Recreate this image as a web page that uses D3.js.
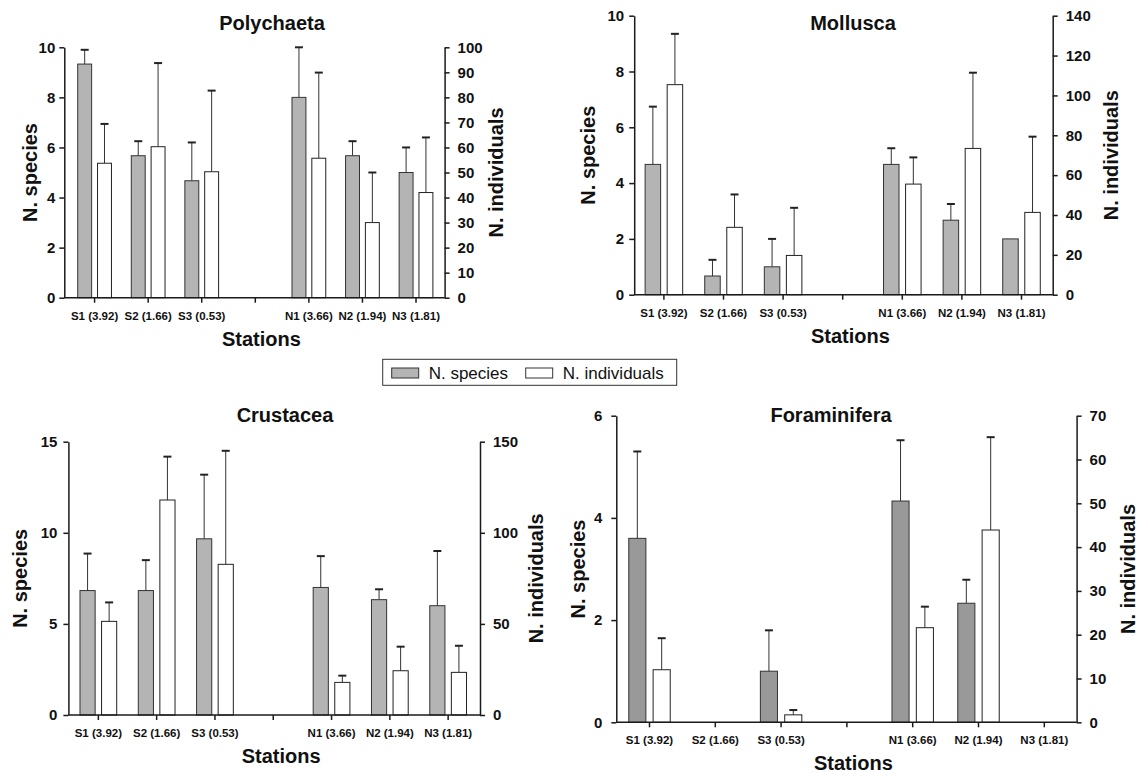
<!DOCTYPE html>
<html>
<head>
<meta charset="utf-8">
<script src="https://cdn.jsdelivr.net/npm/d3@7"></script>
<style>
    body { margin: 0; background: #fff; }
    svg { font-family: Arial, "Liberation Sans", sans-serif; }
    .axis path, .axis line { stroke: #1a1a1a; stroke-width: 1.5; }
    .axis text { font-size: 15px; font-weight: bold; fill: #111; }
    .cat text { font-size: 11.5px; font-weight: bold; fill: #111; }
    .lab { font-size: 20px; font-weight: bold; fill: #111; }
</style>
</head>
<body>
<script>
// stations (middle slot is an empty spacer between S and N)
var stations = ["S1 (3.92)", "S2 (1.66)", "S3 (0.53)", "", "N1 (3.66)", "N2 (1.94)", "N3 (1.81)"];

var polySpecies    = [9.33, 5.67, 4.67, 0, 8.0, 5.67, 5.0];
var polySpeciesErr = [0.57, 0.58, 1.53, 0, 2.0, 0.58, 1.0];
var polyInd        = [53.7, 60.3, 50.3, 0, 55.7, 30.0, 42.0];
var polyIndErr     = [15.7, 33.4, 32.4, 0, 34.2, 20.0, 22.0];

var mollSpecies    = [4.67, 0.67, 1.0, 0, 4.67, 2.67, 2.0];
var mollSpeciesErr = [2.07, 0.58, 1.0, 0, 0.58, 0.58, 0];
var mollInd        = [105.4, 33.8, 19.7, 0, 55.5, 73.4, 41.3];
var mollIndErr     = [25.5, 16.5, 23.9, 0, 13.4, 38.0, 38.0];

var crusSpecies    = [6.83, 6.83, 9.67, 0, 7.0, 6.33, 6.0];
var crusSpeciesErr = [2.03, 1.67, 3.52, 0, 1.72, 0.57, 3.0];
var crusInd        = [51.4, 118.0, 82.7, 0, 17.9, 24.3, 23.4];
var crusIndErr     = [10.4, 23.8, 62.3, 0, 3.7, 13.2, 14.6];

var foraSpecies    = [3.6, 0, 1.0, 0, 4.33, 2.33, 0];
var foraSpeciesErr = [1.7, 0, 0.8, 0, 1.19, 0.46, 0];
var foraInd        = [12.0, 0, 1.7, 0, 21.6, 43.9, 0];
var foraIndErr     = [7.2, 0, 1.1, 0, 4.8, 21.2, 0];

var polyLeftTicks = [0, 2, 4, 6, 8, 10],  polyRightTicks = [0, 10, 20, 30, 40, 50, 60, 70, 80, 90, 100];
var mollLeftTicks = [0, 2, 4, 6, 8, 10],  mollRightTicks = [0, 20, 40, 60, 80, 100, 120, 140];
var crusLeftTicks = [0, 5, 10, 15],       crusRightTicks = [0, 50, 100, 150];
var foraLeftTicks = [0, 2, 4, 6],         foraRightTicks = [0, 10, 20, 30, 40, 50, 60, 70];

var legendLabels = ["N. species", "N. individuals"];

var W = 1142, H = 776;
var svg = d3.select("body").append("svg").attr("width", W).attr("height", H);
var fmt = d3.format("d");

var panels = [
    {title: "Polychaeta", sp: polySpecies, spErr: polySpeciesErr, ind: polyInd, indErr: polyIndErr,
     lt: polyLeftTicks, rt: polyRightTicks, gray: "#b4b4b4",
     left: 64.3, right: 444.6, top: 47.3, bottom: 297.7, xr: [67.8, 442.8],
     titleX: 272, titleY: 30, ylx: 30, yrx: 496, lpad: 4},
    {title: "Mollusca", sp: mollSpecies, spErr: mollSpeciesErr, ind: mollInd, indErr: mollIndErr,
     lt: mollLeftTicks, rt: mollRightTicks, gray: "#b4b4b4",
     left: 634.2, right: 1052.7, top: 15.7, bottom: 294.7, xr: [634.1, 1051.3],
     titleX: 853, titleY: 30, ylx: 588, yrx: 1111, lpad: 5},
    {title: "Crustacea", sp: crusSpecies, spErr: crusSpeciesErr, ind: crusInd, indErr: crusIndErr,
     lt: crusLeftTicks, rt: crusRightTicks, gray: "#b4b4b4",
     left: 68.4, right: 480, top: 441.7, bottom: 715, xr: [69.2, 477.3],
     titleX: 285, titleY: 422, ylx: 20, yrx: 536, lpad: 6},
    {title: "Foraminifera", sp: foraSpecies, spErr: foraSpeciesErr, ind: foraInd, indErr: foraIndErr,
     lt: foraLeftTicks, rt: foraRightTicks, gray: "#999999",
     left: 616.3, right: 1076.6, top: 415.7, bottom: 722.3, xr: [616.6, 1077.2],
     titleX: 831, titleY: 422, ylx: 578, yrx: 1128, lpad: 9}
];

panels.forEach(function(p) {
    var keys = stations.map(function(d, i) { return "k" + i; });
    var x = d3.scaleBand().domain(keys).range(p.xr);
    var s = x.step();
    var yL = d3.scaleLinear().domain([0, d3.max(p.lt)]).range([p.bottom, p.top]);
    var yR = d3.scaleLinear().domain([0, d3.max(p.rt)]).range([p.bottom, p.top]);
    var g = svg.append("g");
    var bw = 0.26 * s;

    var rows = keys.map(function(k, i) {
        return {k: k, sp: p.sp[i], spErr: p.spErr[i], ind: p.ind[i], indErr: p.indErr[i]};
    });

    // error bars (behind bars)
    function errBar(cx, y, v, e) {
        if (!e) return;
        g.append("line").attr("x1", cx).attr("x2", cx)
            .attr("y1", y(v)).attr("y2", y(v + e))
            .attr("stroke", "#333").attr("stroke-width", 1);
        g.append("line").attr("x1", cx - 4).attr("x2", cx + 4)
            .attr("y1", y(v + e)).attr("y2", y(v + e))
            .attr("stroke", "#222").attr("stroke-width", 2);
    }
    rows.forEach(function(r) {
        var c = x(r.k) + s / 2;
        errBar(c - 0.055 * s - bw / 2, yL, r.sp, r.spErr);
        errBar(c + 0.055 * s + bw / 2, yR, r.ind, r.indErr);
    });

    g.selectAll(".sp").data(rows).enter().append("rect")
        .attr("x", function(d) { return x(d.k) + s / 2 - 0.055 * s - bw; })
        .attr("y", function(d) { return yL(d.sp); })
        .attr("width", bw)
        .attr("height", function(d) { return p.bottom - yL(d.sp); })
        .attr("fill", p.gray).attr("stroke", "#333").attr("stroke-width", 1);

    g.selectAll(".ind").data(rows).enter().append("rect")
        .attr("x", function(d) { return x(d.k) + s / 2 + 0.055 * s; })
        .attr("y", function(d) { return yR(d.ind); })
        .attr("width", bw)
        .attr("height", function(d) { return p.bottom - yR(d.ind); })
        .attr("fill", "#fff").attr("stroke", "#222").attr("stroke-width", 1);

    // axes
    g.append("line").attr("x1", p.left).attr("x2", p.right)
        .attr("y1", p.bottom).attr("y2", p.bottom)
        .attr("stroke", "#1a1a1a").attr("stroke-width", 1.5);

    var axB = d3.axisBottom(x).tickSize(5).tickSizeOuter(0).tickPadding(9)
        .tickFormat(function(k) { return stations[keys.indexOf(k)]; });
    var gb = g.append("g").attr("class", "axis cat")
        .attr("transform", "translate(0," + p.bottom + ")").call(axB);
    gb.select(".domain").remove();

    g.append("g").attr("class", "axis")
        .attr("transform", "translate(" + p.left + ",0)")
        .call(d3.axisLeft(yL).tickValues(p.lt).tickFormat(fmt).tickSize(5).tickSizeOuter(0).tickPadding(p.lpad));
    g.append("g").attr("class", "axis")
        .attr("transform", "translate(" + p.right + ",0)")
        .call(d3.axisRight(yR).tickValues(p.rt).tickFormat(fmt).tickSize(5).tickSizeOuter(0).tickPadding(8));

    // labels
    g.append("text").attr("class", "lab").attr("x", p.titleX).attr("y", p.titleY)
        .attr("text-anchor", "middle").text(p.title);
    g.append("text").attr("class", "lab")
        .attr("x", (p.left + p.right) / 2 + 7).attr("y", p.bottom + 48)
        .attr("text-anchor", "middle").text("Stations");
    var mid = (p.top + p.bottom) / 2;
    g.append("text").attr("class", "lab")
        .attr("transform", "translate(" + p.ylx + "," + mid + ") rotate(-90)")
        .attr("text-anchor", "middle").attr("dominant-baseline", "central").text("N. species");
    g.append("text").attr("class", "lab")
        .attr("transform", "translate(" + p.yrx + "," + mid + ") rotate(-90)")
        .attr("text-anchor", "middle").attr("dominant-baseline", "central").text("N. individuals");
});

// legend
var lg = svg.append("g");
lg.append("rect").attr("x", 382.7).attr("y", 359.3).attr("width", 294).attr("height", 26)
    .attr("fill", "#fff").attr("stroke", "#333").attr("stroke-width", 1);
var legFill = ["#b4b4b4", "#fff"];
var legX = [391.7, 525.7];
legendLabels.forEach(function(t, i) {
    lg.append("rect").attr("x", legX[i]).attr("y", 368).attr("width", 27).attr("height", 10)
        .attr("fill", legFill[i]).attr("stroke", "#333").attr("stroke-width", 1);
    lg.append("text").attr("x", legX[i] + 37).attr("y", 379)
        .style("font-size", "17px").style("fill", "#111").text(t);
});
</script>
</body>
</html>
